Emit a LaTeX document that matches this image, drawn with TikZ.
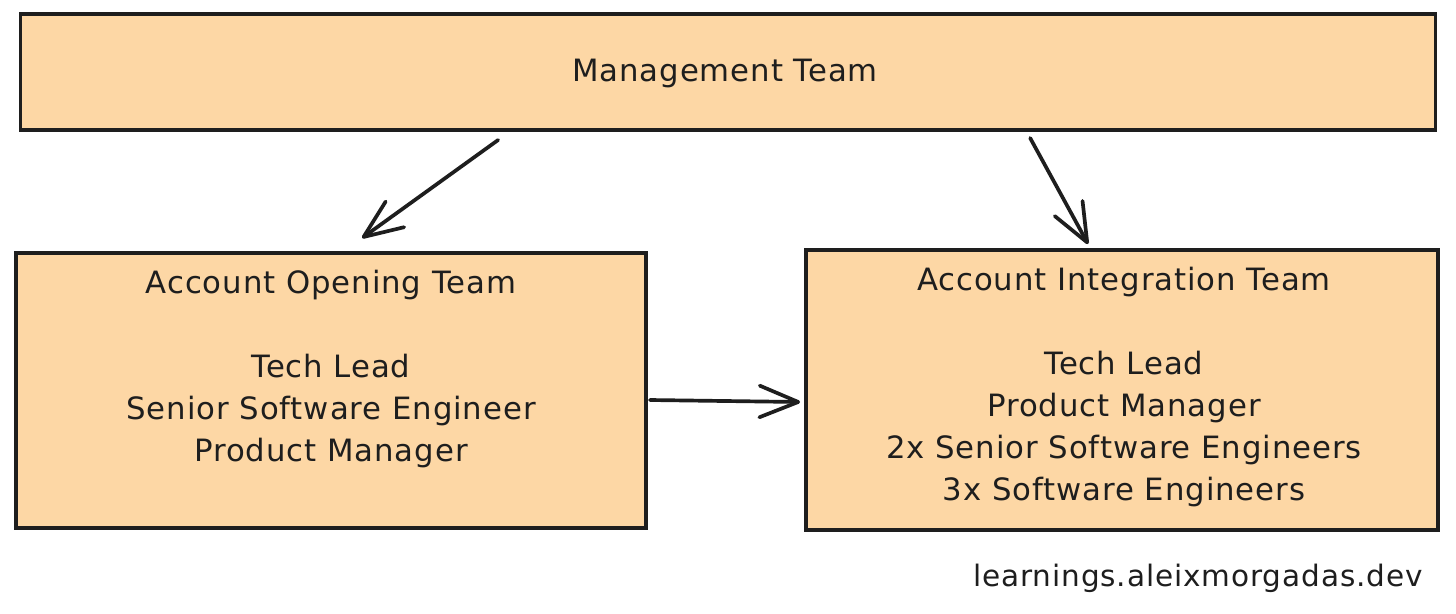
\documentclass[tikz,border=0pt]{standalone}
\usepackage{fontspec}
\setmainfont{DejaVu Sans}[LetterSpace=3]
\usetikzlibrary{arrows.meta,calc}
\definecolor{boxfill}{HTML}{FDD7A5}
\definecolor{ink}{HTML}{1E1E1E}
\begin{document}
\begin{tikzpicture}[x=0.02cm,y=-0.02cm,
  teambox/.style={draw=ink,fill=boxfill,line width=1.8pt,inner sep=0pt,outer sep=0pt,rectangle},
  boxtext/.style={align=center,inner sep=0pt,anchor=base,text=ink,font=\fontsize{17.5}{23.8}\selectfont},
  conn/.style={draw=ink,line width=2.1pt,line cap=round,-{Straight Barb[length=22pt,width=18pt,line cap=round,line join=round]}}]
\useasboundingbox[fill=white] (0,0) rectangle (1456,613);
\node[teambox,minimum width=28.32cm,minimum height=2.32cm] (mgmt) at (728,72) {};
\node[teambox,minimum width=12.6cm,minimum height=5.5cm] (ao) at (331,390.5) {};
\node[teambox,minimum width=12.64cm,minimum height=5.6cm] (ai) at (1122,390) {};
\node[boxtext] (mgmttext) at (725,81) {Management Team};
\node[boxtext] (aotext) at (331,461) {Account Opening Team\\[23.8pt]Tech Lead\\Senior Software Engineer\\Product Manager};
\node[boxtext] (aitext) at (1124,500) {Account Integration Team\\[23.8pt]Tech Lead\\Product Manager\\2x Senior Software Engineers\\3x Software Engineers};
\node[boxtext,anchor=base east,font=\fontsize{16.8}{20}\selectfont] (site) at (1423,586) {learnings.aleixmorgadas.dev};
\draw[conn] ($(mgmt.south west)+(478,10)$) -- ($(ao.north west)+(346,-15)$);
\draw[conn] ($(mgmt.south west)+(1010,8)$) -- ($(ai.north west)+(282,-6)$);
\draw[conn] ($(ao.east)+(4,9.5)$) -- ($(ai.west)+(-6,12)$);
\end{tikzpicture}
\end{document}
